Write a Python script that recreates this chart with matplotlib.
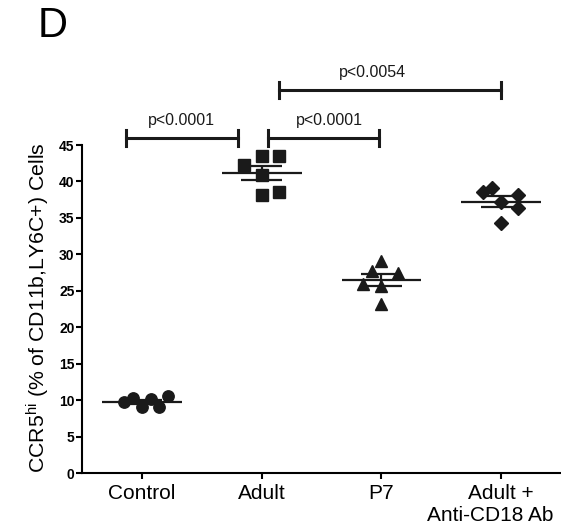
import numpy as np
import matplotlib.pyplot as plt

plt.rcParams['font.family'] = ['Liberation Sans', 'DejaVu Sans']
plt.rcParams['mathtext.fontset'] = 'custom'
plt.rcParams['mathtext.rm'] = 'Liberation Sans'
plt.rcParams['mathtext.it'] = 'Liberation Sans:italic'

# group names and positions
groups = ['Control', 'Adult', 'P7', 'Adult +']
extra_line = 'Anti-CD18 Ab'
markers = ['o', 's', '^', 'D']
marker_sizes = [8.2, 8.8, 9, 6.8]

# individual animals: horizontal scatter offset and % CCR5hi cells
control_dx = [-0.15, -0.075, 0.0, 0.075, 0.142, 0.217]
control_y = [9.7, 10.3, 9.0, 10.1, 9.0, 10.5]
adult_dx = [-0.15, 0.0, 0.142, 0.0, 0.0, 0.142]
adult_y = [42.3, 43.5, 43.5, 40.9, 38.1, 38.6]
p7_dx = [0.0, -0.075, 0.14, -0.155, 0.0, 0.0]
p7_y = [29.1, 27.7, 27.4, 25.9, 25.6, 23.2]
cd18_dx = [-0.15, -0.08, 0.0, 0.145, 0.145, 0.0]
cd18_y = [38.6, 39.05, 37.2, 38.1, 36.3, 34.25]

offsets = [control_dx, adult_dx, p7_dx, cd18_dx]
values = [control_y, adult_y, p7_y, cd18_y]

# significance brackets: (x start, x end, height, label, label x)
brackets = [
    (-0.133, 0.80, 45.9, 'p<0.0001', 0.33),
    (1.053, 1.983, 45.9, 'p<0.0001', 1.567),
    (1.142, 3.003, 52.6, 'p<0.0054', 1.925),
]

fig = plt.figure(figsize=(5.61, 5.31), dpi=100)
ax = fig.add_axes([0.1462, 0.1092, 0.8538, 0.6177])

for i in range(len(groups)):
    y = np.array(values[i])
    x = i + np.array(offsets[i])
    ax.plot(x, y, linestyle='none', marker=markers[i], markersize=marker_sizes[i],
            color='#1a1a1a', clip_on=False, zorder=2)
    m = y.mean()
    sem = y.std(ddof=1) / np.sqrt(len(y))
    ax.hlines(m, i - 0.333, i + 0.333, color='#1a1a1a', lw=1.6, zorder=3)
    ax.hlines([m - sem, m + sem], i - 0.17, i + 0.17, color='#1a1a1a', lw=1.6, zorder=3)
    ax.vlines(i, m - sem, m + sem, color='#1a1a1a', lw=1.6, zorder=3)

for x0, x1, h, label, tx in brackets:
    ax.plot([x0, x1], [h, h], color='#1a1a1a', lw=2.2, clip_on=False)
    ax.plot([x0, x0], [h - 1.1, h + 1.1], color='#1a1a1a', lw=2.2, clip_on=False)
    ax.plot([x1, x1], [h - 1.1, h + 1.1], color='#1a1a1a', lw=2.2, clip_on=False)
    ax.text(tx, h + 1.8, label, ha='center', va='baseline', fontsize=11.5,
            color='#1a1a1a')

ax.set_xlim(-0.5, 3.5)
ax.set_ylim(0, 45)
ax.set_yticks(np.arange(0, 50, 5))
ax.set_xticks(range(len(groups)))
ax.set_xticklabels(groups, fontsize=15)
for t in ax.get_yticklabels():
    t.set_fontsize(10)
    t.set_fontweight('bold')

# second line of the last category label, a little left of the tick
ax.text(2.91, -0.131, extra_line, transform=ax.get_xaxis_transform(),
        ha='center', va='center', fontsize=15)

ax.spines['top'].set_visible(False)
ax.spines['right'].set_visible(False)
ax.spines['left'].set_linewidth(1.5)
ax.spines['bottom'].set_linewidth(1.5)
ax.tick_params(axis='y', length=4, width=1.5, pad=1.5)
ax.tick_params(axis='x', length=4, width=1.5, pad=4)

fig.text(38 / 561, 1 - 308 / 531, r'CCR5$^{\mathrm{hi}}$ (% of CD11b,LY6C+) Cells',
         rotation=90, ha='center', va='center', fontsize=15.3)
fig.text(53 / 561, 1 - 26 / 531, 'D', ha='center', va='center', fontsize=30)

fig.savefig('out.png', dpi=100)
